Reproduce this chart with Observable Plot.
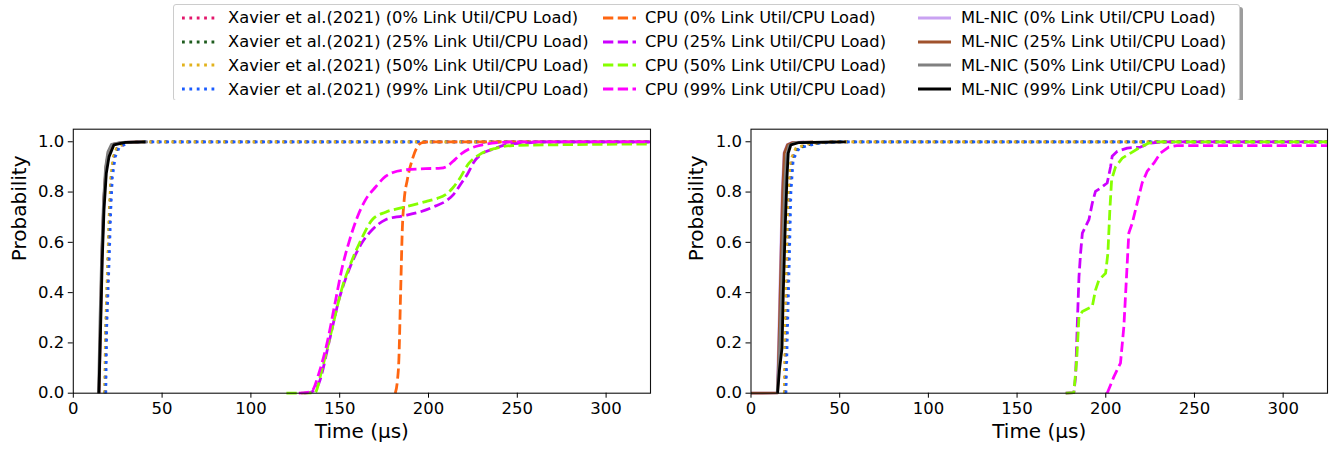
<!DOCTYPE html>
<html>
<head>
<meta charset="utf-8">
<script src="https://cdn.jsdelivr.net/npm/d3@7"></script>
<script src="https://cdn.jsdelivr.net/npm/@observablehq/plot@0.6"></script>
<style>
  html, body { margin: 0; padding: 0; background: white; }
  #wrap { position: relative; width: 1332px; height: 452px; overflow: hidden; font-family: "DejaVu Sans", sans-serif; }
  #legend { position: absolute; left: 173px; top: 4px; width: 1067px; height: 97px; box-sizing: border-box;
            border: 1px solid #cccccc; border-radius: 3px; background: white; box-shadow: 3px 3px 0 #9c9c9c; }
  .item { position: absolute; height: 20px; display: flex; align-items: center; font-size: 16.3px; color: #000; white-space: nowrap; }
  .panel { position: absolute; top: 100px; }
</style>
</head>
<body>
<div id="wrap"><div id="legend"></div></div>
<script>
// ---------- data (x in µs, y = cumulative probability) ----------
const xTicks = [0, 50, 100, 150, 200, 250, 300];
const yTicks = [0, 0.2, 0.4, 0.6, 0.8, 1.0];
const loads = ["0%", "25%", "50%", "99%"];
const groups = ["Xavier et al.(2021)", "CPU", "ML-NIC"];
const xavierColors = ["#e3176c", "#1e5c1e", "#e2b21c", "#1a5cff"];
const cpuColors = ["#ff6611", "#cc00ff", "#86ff00", "#ff00ff"];
const mlnicColors = ["#c9a2f2", "#a0522d", "#808080", "#000000"];

// Left panel
const left_xavier0  = [[18.0,0],[18.5,0.26],[19.8,0.53],[20.7,0.73],[21.6,0.86],[23.0,0.94],[25.3,0.98],[31,0.997],[40,1],[325,1]];
const left_xavier25 = [[17.9,0],[18.4,0.26],[19.6,0.53],[20.5,0.73],[21.4,0.86],[22.8,0.94],[25.0,0.98],[30,0.997],[38,1],[325,1]];
const left_xavier50 = [[17.6,0],[18.2,0.26],[19.4,0.53],[20.3,0.73],[21.2,0.86],[22.5,0.94],[24.6,0.98],[30,0.997],[38,1],[325,1]];
const left_xavier99 = [[18.3,0],[18.8,0.26],[20.2,0.53],[21.1,0.73],[22.0,0.86],[23.6,0.94],[26.0,0.98],[32,0.997],[42,1],[325,1]];

const left_cpu0  = [[181.3,0],[182.5,0.05],[183.3,0.13],[184.3,0.4],[185.3,0.66],[186.2,0.76],[188.1,0.85],[190.9,0.93],[193.7,0.98],[196.5,0.997],[202,1],[325,1]];
const left_cpu25 = [[130,0],[134,0.005],[138.3,0.04],[143.9,0.2],[149.5,0.37],[155.2,0.49],[162.7,0.6],[168.3,0.65],[175.8,0.69],[185.3,0.705],[194.7,0.72],[204.1,0.745],[210,0.765],[214,0.79],[218,0.83],[221.8,0.87],[225.6,0.92],[230,0.952],[236,0.97],[243.5,0.988],[254.8,0.995],[265,1],[325,1]];
const left_cpu50 = [[120,0],[136,0.002],[140.2,0.1],[145.8,0.26],[151.4,0.42],[157,0.53],[162.7,0.62],[168.3,0.69],[175.8,0.72],[185.3,0.738],[198.4,0.762],[205,0.775],[209.6,0.79],[213.5,0.815],[217.2,0.85],[222.8,0.915],[228.5,0.948],[237.9,0.974],[247.3,0.985],[271.6,0.988],[300,0.99],[325,0.991]];
const left_cpu99 = [[127,0],[131,0.002],[134.5,0.01],[138.3,0.08],[142.9,0.2],[147.7,0.37],[151.4,0.5],[155.2,0.6],[159.9,0.7],[164.6,0.77],[170.2,0.82],[175.8,0.862],[180,0.878],[185.3,0.887],[198.4,0.893],[207,0.895],[211,0.905],[215,0.93],[219,0.955],[224,0.975],[230.3,0.988],[241.5,0.998],[250,1],[325,1]];

const left_mlnic0  = [[14.6,0],[15.4,0.3],[16.3,0.58],[17.3,0.78],[18.5,0.9],[20.0,0.96],[22.5,0.99],[28,0.998],[38,1]];
const left_mlnic25 = [[14.5,0],[15.3,0.29],[16.2,0.57],[17.2,0.77],[18.4,0.9],[19.8,0.96],[22.2,0.99],[28,0.998],[39,1]];
const left_mlnic50 = [[14.2,0],[15.0,0.28],[16.0,0.56],[17.0,0.76],[18.2,0.9],[19.5,0.96],[21.5,0.99],[27,0.998],[42,1]];
const left_mlnic99 = [[14.4,0],[15.4,0.265],[16.3,0.53],[17.3,0.73],[18.6,0.875],[20.1,0.94],[22.9,0.988],[29.4,0.998],[40.7,1]];

// Right panel
const right_xavier0  = [[19.0,0],[19.6,0.265],[20.5,0.53],[21.6,0.8],[22.9,0.93],[25.8,0.975],[34,0.993],[46,1],[325,1]];
const right_xavier25 = [[19.2,0],[19.9,0.265],[20.9,0.53],[21.9,0.8],[23.2,0.93],[26.3,0.975],[35,0.993],[48,1],[325,1]];
const right_xavier50 = [[18.8,0],[19.3,0.265],[20.1,0.53],[21.2,0.8],[22.5,0.93],[25.3,0.975],[32.8,0.993],[45,1],[325,1]];
const right_xavier99 = [[19.7,0],[20.6,0.265],[21.6,0.53],[22.5,0.8],[23.8,0.93],[27.2,0.975],[36.6,0.993],[50,1],[325,1]];

const right_cpu25 = [[177.4,0],[182,0.002],[183,0.066],[183.9,0.265],[184.9,0.464],[185.8,0.557],[186.8,0.637],[188.6,0.663],[190.5,0.69],[192.4,0.756],[194.2,0.803],[197.1,0.816],[200.8,0.836],[202.7,0.9],[203.6,0.942],[206.5,0.962],[212.1,0.975],[219.6,0.979],[225.2,0.995],[232,1],[325,1]];
const right_cpu50 = [[177.4,0],[182,0.002],[183.6,0.13],[184.9,0.305],[186.8,0.325],[192.4,0.345],[194.2,0.41],[196.1,0.45],[199.9,0.477],[201.2,0.557],[202.3,0.729],[203.3,0.849],[205.5,0.9],[209.3,0.935],[214,0.955],[218.7,0.975],[224.3,0.995],[230,1],[325,1]];
const right_cpu99 = [[200.8,0],[204.6,0.066],[208.3,0.12],[210.2,0.265],[211.7,0.464],[213,0.637],[214.9,0.676],[217.7,0.756],[220.5,0.836],[223.3,0.882],[227.1,0.915],[230.8,0.955],[235.5,0.979],[240,0.985],[325,0.985]];

const right_mlnic0  = [[0,0],[14.8,0.001],[15.8,0.27],[16.7,0.54],[17.6,0.8],[18.6,0.955],[20.4,0.988],[23,0.997],[30,1]];
const right_mlnic25 = [[0,0],[15.0,0.001],[16.0,0.265],[16.9,0.53],[17.8,0.795],[18.8,0.955],[20.6,0.988],[23.5,0.997],[35,1]];
const right_mlnic50 = [[14.8,0],[16.0,0.15],[17.0,0.35],[18.0,0.6],[19.0,0.82],[20.0,0.94],[21.5,0.985],[25,0.997],[48,1]];
const right_mlnic99 = [[15.0,0],[16.0,0.09],[17.5,0.18],[18.2,0.4],[19.3,0.66],[20.3,0.86],[21.0,0.955],[22.5,0.988],[27.2,0.997],[53.5,1]];

// ---------- styles ----------
const LW = 2.78;
const DASH = "10.3,4.45";
const DOT = "2.78,4.6";

function lineMark(data, color, kind, curve) {
  const opts = { x: d => d[0], y: d => d[1], stroke: color, strokeWidth: LW, curve: curve || "linear", strokeLinecap: "butt", strokeLinejoin: "round" };
  if (kind === "dash") opts.strokeDasharray = DASH;
  if (kind === "dot") opts.strokeDasharray = DOT;
  return Plot.line(data, opts);
}

function panel(xav, cpu, ml, cpuCurve, mLeft, mRight) {
  const marks = [];
  xav.forEach((s, i) => { if (s) marks.push(lineMark(s, xavierColors[i], "dot")); });
  cpu.forEach((s, i) => { if (s) marks.push(lineMark(s, cpuColors[i], "dash", cpuCurve)); });
  ml.forEach((s, i) => { if (s) marks.push(lineMark(s, mlnicColors[i], "solid")); });
  return Plot.plot({
    width: 666, height: 352,
    marginTop: 28.7, marginBottom: 59.3, marginLeft: mLeft, marginRight: mRight,
    style: { fontFamily: "DejaVu Sans, sans-serif", fontSize: "16.5px", color: "#000", background: "white", overflow: "visible" },
    x: { domain: [0, 325], ticks: xTicks },
    y: { domain: [0, 1.05], ticks: yTicks, tickFormat: d3.format(".1f") },
    marks: [
      ...marks,
      Plot.frame({ stroke: "#111", strokeWidth: 1.1 }),
      Plot.axisX({ ticks: xTicks, tickSize: 5, tickPadding: 4, fontSize: 16.5, label: null }),
      Plot.axisY({ ticks: yTicks, tickSize: 5, tickPadding: 4, fontSize: 16.5, label: null, tickFormat: d3.format(".1f") }),
      Plot.text(["Time (µs)"], { text: d => d, frameAnchor: "bottom", dy: 44.5, fontSize: 20, fill: "#000" }),
      Plot.text(["Probability"], { text: d => d, frameAnchor: "left", dx: -54, rotate: -90, fontSize: 20, fill: "#000" })
    ]
  });
}

const wrap = document.getElementById("wrap");
const left = panel(
  [left_xavier0, left_xavier25, left_xavier50, left_xavier99],
  [left_cpu0, left_cpu25, left_cpu50, left_cpu99],
  [left_mlnic0, left_mlnic25, left_mlnic50, left_mlnic99],
  "monotone-x", 72.8, 16);
left.classList.add("panel"); left.style.left = "0px";
wrap.appendChild(left);

const right = panel(
  [right_xavier0, right_xavier25, right_xavier50, right_xavier99],
  [null, right_cpu25, right_cpu50, right_cpu99],
  [right_mlnic0, right_mlnic25, right_mlnic50, right_mlnic99],
  "linear", 84.5, 5);
right.classList.add("panel"); right.style.left = "666px";
wrap.appendChild(right);

// ---------- legend ----------
const legend = document.getElementById("legend");
const legLeft = 173, legTop = 4;
const colSwatchX = [182, 603, 918];
const colTextX = [228, 645, 961];
const rowY = [17.5, 41.5, 65, 89];
const groupColors = [xavierColors, cpuColors, mlnicColors];
const groupKinds = ["dot", "dash", "solid"];
groups.forEach((g, c) => {
  loads.forEach((l, r) => {
    const sw = document.createElementNS("http://www.w3.org/2000/svg", "svg");
    sw.setAttribute("width", 33); sw.setAttribute("height", 10);
    sw.style.position = "absolute";
    sw.style.left = (colSwatchX[c] - legLeft - 1) + "px";
    sw.style.top = (rowY[r] - legTop - 1 - 5) + "px";
    const ln = document.createElementNS("http://www.w3.org/2000/svg", "line");
    ln.setAttribute("x1", 0); ln.setAttribute("x2", 33); ln.setAttribute("y1", 5); ln.setAttribute("y2", 5);
    ln.setAttribute("stroke", groupColors[c][r]); ln.setAttribute("stroke-width", LW);
    if (groupKinds[c] === "dash") ln.setAttribute("stroke-dasharray", DASH);
    if (groupKinds[c] === "dot") ln.setAttribute("stroke-dasharray", DOT);
    sw.appendChild(ln);
    legend.appendChild(sw);
    const t = document.createElement("div");
    t.className = "item";
    t.style.left = (colTextX[c] - legLeft - 1) + "px";
    t.style.top = (rowY[r] - legTop - 1 - 10) + "px";
    t.textContent = `${g} (${l} Link Util/CPU Load)`;
    legend.appendChild(t);
  });
});
</script>
</body>
</html>
